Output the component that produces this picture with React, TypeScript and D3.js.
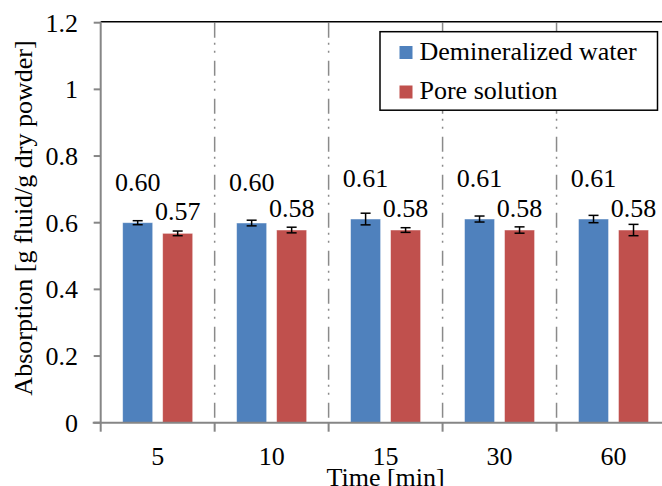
import React from "react";
import * as d3 from "d3";

const categories = ["5", "10", "15", "30", "60"];
const seriesNames = ["Demineralized water", "Pore solution"];
const waterValues = [0.6, 0.599, 0.611, 0.611, 0.611];
const poreValues = [0.568, 0.578, 0.578, 0.578, 0.578];
const waterErrors = [0.006, 0.0085, 0.0175, 0.009, 0.011];
const poreErrors = [0.007, 0.0085, 0.007, 0.0095, 0.017];
const yTicks = [0, 0.2, 0.4, 0.6, 0.8, 1, 1.2];
const colors = ["#4F81BD", "#C0504D"];

const W = 662;
const H = 486;
const left = 100.7;
const right = 670.5;
const top = 22.7;
const bottom = 422.7;
const FONT = "Liberation Serif";
const FS = 26;

export default function App() {
  const x = d3.scaleBand<string>().domain(categories).range([left, right]).paddingInner(0).paddingOuter(0);
  const y = d3.scaleLinear().domain([0, 1.2]).range([bottom, top]);
  const barW = 30;
  const gap = 10;
  const series = [
    { values: waterValues, errors: waterErrors, color: colors[0], offset: -(gap / 2 + barW), labelDy: 32 },
    { values: poreValues, errors: poreErrors, color: colors[1], offset: gap / 2, labelDy: 13 },
  ];
  const bw = x.bandwidth();
  const dividers = categories.slice(1).map((c) => x(c) as number);

  return (
    <svg width={W} height={H} style={{ position: "absolute", left: 0, top: 0, background: "#fff" }}>
      <rect x={0} y={0} width={W} height={H} fill="#fff" />
      {dividers.map((dx, i) => (
        <line key={"d" + i} x1={dx} x2={dx} y1={top} y2={bottom} stroke="#8a8a8a" strokeWidth={1.5} strokeDasharray="15,5,2,6,2,8" />
      ))}
      <line x1={left} x2={W} y1={top - 1} y2={top - 1} stroke="#000" strokeWidth={1.5} />
      {series.map((s, si) =>
        categories.map((c, i) => {
          const cx = (x(c) as number) + bw / 2;
          const bx = cx + s.offset;
          const v = s.values[i];
          const e = s.errors[i];
          const mx = bx + barW / 2;
          return (
            <g key={si + "-" + i}>
              <rect x={bx} y={y(v)} width={barW} height={y(0) - y(v)} fill={s.color} stroke="#ffffff" strokeOpacity={0.5} strokeWidth={0.8} />
              <line x1={mx} x2={mx} y1={y(v + e)} y2={y(v - e)} stroke="#000" strokeWidth={1.5} />
              <line x1={mx - 5} x2={mx + 5} y1={y(v + e)} y2={y(v + e)} stroke="#000" strokeWidth={1.5} />
              <line x1={mx - 5} x2={mx + 5} y1={y(v - e)} y2={y(v - e)} stroke="#000" strokeWidth={1.5} />
              <text x={mx} y={y(v) - s.labelDy} textAnchor="middle" style={{ fontFamily: FONT, fontSize: FS }} fill="#000">
                {d3.format(".2f")(v)}
              </text>
            </g>
          );
        })
      )}
      <line x1={left} x2={left} y1={top - 1} y2={bottom} stroke="#868686" strokeWidth={2} />
      <line x1={left - 8} x2={W} y1={bottom} y2={bottom} stroke="#868686" strokeWidth={2} />
      {yTicks.map((t) => (
        <g key={"y" + t}>
          <line x1={left - 7} x2={left} y1={y(t)} y2={y(t)} stroke="#868686" strokeWidth={2} />
          <text x={78} y={y(t)} dy="0.35em" textAnchor="end" style={{ fontFamily: FONT, fontSize: FS }} fill="#000">
            {d3.format("")(t)}
          </text>
        </g>
      ))}
      {[left, ...dividers].map((tx, i) => (
        <line key={"xt" + i} x1={tx} x2={tx} y1={bottom} y2={bottom + 9} stroke="#868686" strokeWidth={2} />
      ))}
      {categories.map((c) => (
        <text key={"xl" + c} x={(x(c) as number) + bw / 2} y={465} textAnchor="middle" style={{ fontFamily: FONT, fontSize: FS }} fill="#000">
          {c}
        </text>
      ))}
      <text x={(left + right) / 2} y={486} textAnchor="middle" style={{ fontFamily: FONT, fontSize: FS }} fill="#000">
        Time [min]
      </text>
      <text transform={`translate(32, 218) rotate(-90)`} textAnchor="middle" style={{ fontFamily: FONT, fontSize: FS }} fill="#000">
        Absorption [g fluid/g dry powder]
      </text>
      <g>
        <rect x={380} y={31.7} width={277.5} height={78.5} fill="#fff" stroke="#000" strokeWidth={1.5} />
        {seriesNames.map((n, i) => (
          <g key={"lg" + i}>
            <rect x={399.5} y={46 + i * 39.5} width={13} height={13} fill={colors[i]} />
            <text x={419.5} y={59.5 + i * 39.5} style={{ fontFamily: FONT, fontSize: FS }} fill="#000">
              {n}
            </text>
          </g>
        ))}
      </g>
    </svg>
  );
}
